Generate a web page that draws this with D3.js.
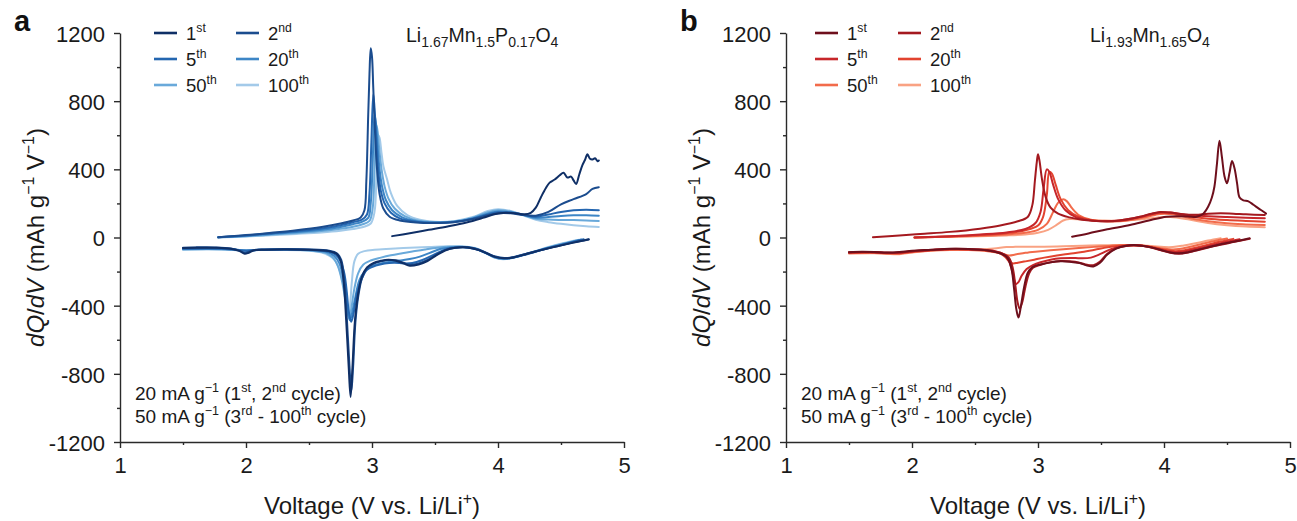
<!DOCTYPE html>
<html>
<head>
<meta charset="utf-8">
<script src="https://cdn.jsdelivr.net/npm/d3@7"></script>
<style>
  html, body { margin: 0; padding: 0; background: #fff; }
  svg { display: block; font-family: "Liberation Sans", Arial, Helvetica, sans-serif; }
</style>
</head>
<body>
<svg id="chart" width="1297" height="521"></svg>
<script>
// ---- cycle labels and palettes ----
const cycleNums = ["1", "2", "5", "20", "50", "100"];
const cycleSups = ["st", "nd", "th", "th", "th", "th"];
const bluePalette = ["#0f2f66", "#1b4c8e", "#2466b0", "#3d86c6", "#69a9da", "#a3cae9"];
const redPalette  = ["#6e0f1c", "#a4191f", "#c7262a", "#e2432f", "#f26b4b", "#f9a283"];

// ---- axis ticks ----
const yTicks = [-1200, -800, -400, 0, 400, 800, 1200];
const yMinor = [-1000, -600, -200, 200, 600, 1000];
const xTicks = [1, 2, 3, 4, 5];
const xMinor = [1.5, 2.5, 3.5, 4.5];

// ---- Li1.67Mn1.5P0.17O4 : charge branches [V, dQ/dV] ----
const chgA1 = [[3.16,8],[3.3,25],[3.45,45],[3.6,65],[3.75,88],[3.88,115],[3.98,138],[4.06,145],[4.14,142],[4.21,136],[4.26,145],[4.3,175],[4.34,235],[4.38,290],[4.41,322],[4.45,340],[4.49,365],[4.52,380],[4.55,352],[4.58,357],[4.6,335],[4.62,314],[4.645,370],[4.67,425],[4.69,455],[4.71,488],[4.73,462],[4.75,458],[4.77,465],[4.79,448],[4.8,452]];
const chgA2 = [[1.78,2],[2.0,14],[2.2,28],[2.4,43],[2.6,62],[2.75,82],[2.85,100],[2.91,118],[2.94,160],[2.955,330],[2.97,720],[2.98,960],[2.99,1110],[3.0,1060],[3.01,880],[3.025,600],[3.04,400],[3.06,255],[3.09,170],[3.14,122],[3.22,100],[3.35,88],[3.5,85],[3.65,90],[3.8,108],[3.92,130],[4.0,142],[4.1,142],[4.2,132],[4.3,128],[4.4,150],[4.5,195],[4.6,225],[4.7,255],[4.75,285],[4.8,295]];
const chgA5 = [[1.78,1],[2.0,12],[2.2,24],[2.4,37],[2.6,53],[2.75,72],[2.85,90],[2.92,105],[2.96,135],[2.98,260],[2.995,560],[3.01,840],[3.02,760],[3.035,560],[3.05,390],[3.07,275],[3.1,200],[3.15,145],[3.22,112],[3.35,92],[3.5,86],[3.65,91],[3.8,110],[3.92,135],[4.0,148],[4.1,146],[4.2,134],[4.3,122],[4.4,135],[4.5,150],[4.6,160],[4.7,163],[4.8,160]];
const chgA20 = [[1.78,1],[2.0,10],[2.2,21],[2.4,32],[2.6,46],[2.75,62],[2.85,78],[2.92,92],[2.97,115],[2.99,200],[3.005,430],[3.02,720],[3.03,680],[3.045,530],[3.06,400],[3.08,300],[3.11,220],[3.16,160],[3.24,118],[3.35,96],[3.5,88],[3.65,92],[3.8,112],[3.92,140],[4.0,152],[4.1,148],[4.2,133],[4.3,116],[4.4,120],[4.5,126],[4.6,130],[4.7,131],[4.8,128]];
const chgA50 = [[1.78,1],[2.0,8],[2.2,17],[2.4,27],[2.6,38],[2.75,51],[2.85,63],[2.92,76],[2.98,98],[3.005,170],[3.02,400],[3.035,660],[3.045,620],[3.06,500],[3.08,380],[3.1,300],[3.13,230],[3.18,170],[3.26,125],[3.36,100],[3.5,90],[3.65,94],[3.8,116],[3.92,148],[4.0,160],[4.1,152],[4.2,132],[4.3,110],[4.4,105],[4.5,103],[4.6,102],[4.7,100],[4.8,97]];
const chgA100 = [[1.78,0],[2.0,6],[2.2,13],[2.4,21],[2.6,30],[2.75,40],[2.85,50],[2.93,62],[2.99,82],[3.02,150],[3.035,350],[3.05,600],[3.06,585],[3.075,500],[3.09,420],[3.12,340],[3.15,260],[3.2,185],[3.28,132],[3.38,104],[3.5,92],[3.65,96],[3.8,120],[3.92,155],[4.0,166],[4.1,156],[4.2,130],[4.3,104],[4.4,90],[4.5,80],[4.6,72],[4.7,66],[4.8,62]];

// ---- Li1.67Mn1.5P0.17O4 : discharge branches ----
const disA1 = [[4.72,-12],[4.6,-30],[4.45,-55],[4.3,-82],[4.2,-102],[4.12,-118],[4.05,-122],[3.98,-115],[3.92,-96],[3.85,-74],[3.76,-58],[3.66,-60],[3.58,-76],[3.51,-105],[3.44,-138],[3.37,-158],[3.3,-166],[3.25,-152],[3.19,-136],[3.13,-130],[3.07,-137],[3.01,-150],[2.96,-175],[2.92,-230],[2.89,-330],[2.865,-485],[2.845,-760],[2.83,-935],[2.815,-760],[2.795,-485],[2.775,-260],[2.75,-132],[2.72,-96],[2.66,-80],[2.5,-72],[2.3,-70],[2.15,-72],[2.06,-76],[2.02,-90],[1.99,-96],[1.95,-80],[1.88,-66],[1.75,-60],[1.6,-60],[1.5,-62]];
const disA2 = [[4.72,-10],[4.6,-28],[4.45,-54],[4.3,-80],[4.2,-100],[4.12,-116],[4.05,-120],[3.98,-112],[3.92,-94],[3.85,-72],[3.76,-57],[3.66,-60],[3.58,-74],[3.51,-100],[3.44,-132],[3.37,-152],[3.3,-160],[3.25,-148],[3.19,-134],[3.13,-132],[3.07,-140],[3.01,-155],[2.96,-182],[2.92,-240],[2.89,-350],[2.868,-500],[2.85,-760],[2.836,-900],[2.82,-740],[2.8,-470],[2.78,-250],[2.755,-130],[2.72,-92],[2.66,-78],[2.5,-70],[2.3,-68],[2.15,-70],[2.06,-74],[2.02,-84],[1.99,-90],[1.95,-77],[1.88,-64],[1.75,-58],[1.6,-58],[1.5,-60]];
const disA5 = [[4.68,-10],[4.55,-35],[4.4,-62],[4.28,-88],[4.18,-108],[4.1,-120],[4.04,-122],[3.97,-112],[3.9,-90],[3.82,-68],[3.72,-57],[3.62,-62],[3.55,-80],[3.48,-105],[3.4,-132],[3.32,-150],[3.25,-152],[3.18,-148],[3.1,-152],[3.03,-165],[2.96,-190],[2.92,-240],[2.88,-330],[2.855,-440],[2.835,-495],[2.815,-430],[2.8,-320],[2.78,-210],[2.75,-140],[2.71,-100],[2.65,-82],[2.5,-72],[2.3,-70],[2.1,-72],[2.0,-78],[1.9,-70],[1.7,-64],[1.5,-66]];
const disA20 = [[4.66,-12],[4.55,-32],[4.4,-60],[4.28,-86],[4.18,-106],[4.1,-120],[4.04,-124],[3.97,-114],[3.9,-90],[3.82,-66],[3.72,-56],[3.62,-58],[3.54,-68],[3.46,-90],[3.38,-112],[3.3,-126],[3.22,-135],[3.15,-142],[3.07,-152],[3.0,-168],[2.94,-200],[2.9,-250],[2.865,-360],[2.84,-450],[2.825,-485],[2.81,-450],[2.79,-340],[2.77,-230],[2.74,-150],[2.7,-108],[2.64,-86],[2.5,-74],[2.3,-70],[2.1,-72],[2.0,-76],[1.9,-70],[1.7,-66],[1.5,-68]];
const disA50 = [[4.64,-14],[4.55,-30],[4.4,-58],[4.28,-85],[4.18,-106],[4.1,-122],[4.04,-126],[3.97,-116],[3.9,-90],[3.82,-64],[3.72,-54],[3.62,-55],[3.52,-60],[3.42,-70],[3.32,-82],[3.24,-92],[3.15,-104],[3.07,-118],[2.99,-135],[2.93,-160],[2.89,-210],[2.86,-300],[2.835,-420],[2.82,-470],[2.805,-440],[2.785,-350],[2.76,-250],[2.73,-170],[2.69,-118],[2.63,-90],[2.5,-76],[2.3,-72],[2.1,-73],[2.0,-76],[1.9,-71],[1.7,-68],[1.5,-70]];
const disA100 = [[4.62,-16],[4.55,-28],[4.4,-56],[4.28,-84],[4.18,-106],[4.1,-122],[4.04,-127],[3.97,-117],[3.9,-90],[3.82,-62],[3.72,-52],[3.6,-52],[3.45,-56],[3.3,-60],[3.15,-66],[3.02,-72],[2.94,-80],[2.89,-95],[2.86,-140],[2.84,-260],[2.825,-400],[2.812,-445],[2.8,-400],[2.78,-300],[2.75,-210],[2.72,-150],[2.68,-115],[2.62,-92],[2.5,-78],[2.3,-73],[2.1,-74],[2.0,-77],[1.9,-73],[1.7,-70],[1.5,-72]];

// ---- Li1.93Mn1.65O4 : charge branches ----
const chgB1 = [[3.27,5],[3.4,24],[3.55,48],[3.73,73],[3.88,100],[4.02,122],[4.14,125],[4.26,122],[4.31,138],[4.35,180],[4.38,235],[4.4,298],[4.42,430],[4.44,568],[4.46,470],[4.48,360],[4.5,318],[4.52,380],[4.54,449],[4.56,405],[4.58,318],[4.6,235],[4.63,218],[4.67,212],[4.71,192],[4.75,171],[4.79,151],[4.81,140]];
const chgB2 = [[1.69,2],[1.9,12],[2.1,22],[2.3,33],[2.54,52],[2.7,70],[2.84,95],[2.92,122],[2.955,190],[2.975,330],[2.99,440],[3.0,488],[3.012,450],[3.03,350],[3.06,240],[3.1,175],[3.16,140],[3.25,118],[3.35,104],[3.5,95],[3.65,100],[3.8,120],[3.9,140],[3.97,150],[4.05,146],[4.15,136],[4.25,133],[4.35,140],[4.45,142],[4.55,140],[4.65,136],[4.8,132]];
const chgB5 = [[2.02,0],[2.3,8],[2.54,18],[2.75,30],[2.9,50],[2.98,85],[3.02,150],[3.045,290],[3.07,400],[3.09,385],[3.12,310],[3.16,225],[3.22,158],[3.3,120],[3.4,102],[3.55,95],[3.7,105],[3.85,128],[3.97,148],[4.07,145],[4.2,132],[4.35,125],[4.5,120],[4.65,116],[4.8,113]];
const chgB20 = [[2.02,0],[2.3,6],[2.54,14],[2.75,25],[2.9,42],[3.0,70],[3.04,120],[3.07,250],[3.09,386],[3.11,375],[3.14,310],[3.18,225],[3.24,160],[3.32,122],[3.42,102],[3.55,95],[3.7,102],[3.85,125],[3.97,145],[4.07,142],[4.2,125],[4.35,110],[4.5,102],[4.65,97],[4.8,93]];
const chgB50 = [[2.02,0],[2.3,5],[2.54,10],[2.75,18],[2.9,28],[3.0,45],[3.07,80],[3.12,150],[3.16,205],[3.2,224],[3.23,212],[3.27,172],[3.33,128],[3.42,104],[3.55,95],[3.7,98],[3.85,118],[3.97,138],[4.07,136],[4.2,115],[4.35,95],[4.5,83],[4.65,77],[4.8,73]];
const chgB100 = [[2.02,0],[2.3,4],[2.54,8],[2.75,12],[2.9,18],[3.0,28],[3.08,45],[3.15,75],[3.2,100],[3.25,108],[3.35,105],[3.5,100],[3.65,98],[3.8,105],[3.95,118],[4.05,120],[4.2,105],[4.35,85],[4.5,72],[4.65,64],[4.8,60]];

// ---- Li1.93Mn1.65O4 : discharge branches ----
const disB1 = [[4.68,-5],[4.55,-25],[4.4,-48],[4.28,-70],[4.18,-88],[4.12,-93],[4.05,-88],[3.97,-72],[3.88,-55],[3.78,-45],[3.7,-48],[3.62,-65],[3.55,-100],[3.49,-150],[3.44,-170],[3.39,-165],[3.33,-150],[3.25,-142],[3.18,-140],[3.1,-146],[3.02,-158],[2.96,-172],[2.92,-205],[2.89,-290],[2.865,-400],[2.845,-470],[2.828,-420],[2.81,-300],[2.79,-185],[2.76,-122],[2.71,-96],[2.6,-76],[2.45,-68],[2.3,-66],[2.15,-72],[2.0,-78],[1.9,-85],[1.8,-88],[1.7,-85],[1.6,-84],[1.5,-86]];
const disB2 = [[4.68,-8],[4.55,-27],[4.4,-50],[4.28,-72],[4.18,-90],[4.12,-95],[4.05,-90],[3.97,-74],[3.88,-56],[3.78,-46],[3.7,-50],[3.62,-64],[3.55,-95],[3.49,-142],[3.44,-162],[3.39,-160],[3.33,-148],[3.25,-140],[3.18,-138],[3.1,-145],[3.02,-160],[2.96,-178],[2.93,-210],[2.9,-290],[2.875,-380],[2.855,-418],[2.838,-380],[2.82,-280],[2.8,-180],[2.77,-120],[2.72,-95],[2.6,-75],[2.45,-68],[2.3,-67],[2.15,-73],[2.0,-80],[1.9,-88],[1.8,-90],[1.7,-86],[1.6,-85],[1.5,-87]];
const disB5 = [[4.6,-10],[4.5,-25],[4.38,-45],[4.26,-66],[4.16,-82],[4.1,-86],[4.03,-80],[3.95,-66],[3.86,-52],[3.76,-46],[3.66,-52],[3.58,-68],[3.5,-95],[3.42,-118],[3.34,-122],[3.26,-120],[3.18,-122],[3.1,-130],[3.02,-145],[2.96,-162],[2.91,-185],[2.87,-225],[2.845,-262],[2.825,-272],[2.81,-245],[2.79,-185],[2.765,-130],[2.73,-100],[2.66,-80],[2.5,-70],[2.3,-68],[2.15,-74],[2.0,-82],[1.9,-90],[1.8,-90],[1.7,-86],[1.5,-88]];
const disB20 = [[4.55,-8],[4.45,-24],[4.35,-42],[4.24,-62],[4.15,-76],[4.09,-80],[4.02,-75],[3.94,-62],[3.85,-50],[3.75,-45],[3.65,-48],[3.55,-58],[3.45,-72],[3.35,-85],[3.25,-95],[3.15,-105],[3.05,-118],[2.97,-130],[2.9,-140],[2.84,-148],[2.8,-152],[2.77,-140],[2.74,-115],[2.7,-95],[2.62,-80],[2.5,-72],[2.3,-70],[2.15,-75],[2.0,-84],[1.9,-92],[1.8,-92],[1.7,-88],[1.5,-90]];
const disB50 = [[4.5,-6],[4.4,-20],[4.3,-38],[4.2,-56],[4.12,-68],[4.06,-70],[3.99,-64],[3.9,-54],[3.8,-46],[3.7,-44],[3.58,-48],[3.45,-55],[3.3,-63],[3.15,-72],[3.0,-82],[2.9,-90],[2.82,-100],[2.77,-105],[2.73,-98],[2.68,-88],[2.6,-80],[2.45,-74],[2.3,-72],[2.15,-76],[2.0,-86],[1.9,-95],[1.8,-94],[1.7,-90],[1.5,-92]];
const disB100 = [[4.45,-4],[4.35,-18],[4.25,-34],[4.15,-48],[4.07,-56],[4.0,-56],[3.9,-50],[3.78,-45],[3.65,-44],[3.5,-46],[3.35,-48],[3.2,-52],[3.05,-54],[2.92,-55],[2.82,-55],[2.75,-56],[2.65,-65],[2.5,-73],[2.3,-74],[2.15,-78],[2.0,-88],[1.9,-98],[1.8,-96],[1.7,-92],[1.5,-94]];

// ---- text content ----
const formulaA = [["Li",""],["1.67","sub"],["Mn",""],["1.5","sub"],["P",""],["0.17","sub"],["O",""],["4","sub"]];
const formulaB = [["Li",""],["1.93","sub"],["Mn",""],["1.65","sub"],["O",""],["4","sub"]];
const rateLine1 = [["20 mA g",""],["\u22121","sup"],[" (1",""],["st","sup"],[", 2",""],["nd","sup"],[" cycle)",""]];
const rateLine2 = [["50 mA g",""],["\u22121","sup"],[" (3",""],["rd","sup"],[" - 100",""],["th","sup"],[" cycle)",""]];
const yTitle = [["dQ","i"],["/",""],["dV","i"],[" (mAh g",""],["\u22121","sup"],[" V",""],["\u22121","sup"],[")",""]];
const xTitle = [["Voltage (V vs. Li/Li",""],["+","sup"],[")",""]];

// ---- panels assembled from the arrays above ----
const panels = [
  { letter: "a", left: 120, colors: bluePalette, formula: formulaA, formulaX: 406,
    legendX: [154, 236],
    charge: [chgA1, chgA2, chgA5, chgA20, chgA50, chgA100],
    discharge: [disA1, disA2, disA5, disA20, disA50, disA100] },
  { letter: "b", left: 786, colors: redPalette, formula: formulaB, formulaX: 1090,
    legendX: [815, 898],
    charge: [chgB1, chgB2, chgB5, chgB20, chgB50, chgB100],
    discharge: [disB1, disB2, disB5, disB20, disB50, disB100] }
];

const svg = d3.select("#chart");
const TEXT = "#1a1a1a";
const AXIS = "#2a2a2a";
const plotW = 504, yTop = 33, yBot = 442;

// writes a text element made of plain / italic / sub / sup pieces
function richText(parent, x, y, segs, size, anchor) {
  const t = parent.append("text")
    .attr("x", x).attr("y", y)
    .attr("font-size", size)
    .attr("fill", TEXT)
    .attr("text-anchor", anchor || "start");
  let shift = 0;
  segs.forEach(([s, kind]) => {
    let target = 0, fs = size;
    if (kind === "sup") { target = -0.4 * size; fs = size * 0.66; }
    else if (kind === "sub") { target = 0.28 * size; fs = size * 0.72; }
    const sp = t.append("tspan").text(s).attr("font-size", fs);
    if (target - shift !== 0) sp.attr("dy", target - shift);
    if (kind === "i") sp.attr("font-style", "italic");
    shift = target;
  });
  return t;
}

panels.forEach(p => {
  const x = d3.scaleLinear().domain([1, 5]).range([p.left, p.left + plotW]);
  const y = d3.scaleLinear().domain([-1200, 1200]).range([yBot, yTop]);
  const g = svg.append("g");

  // curves: lightest (latest cycle) first so early cycles sit on top
  const line = d3.line()
    .x(d => x(d[0])).y(d => y(d[1]))
    .curve(d3.curveCatmullRom.alpha(0.5));
  const curves = g.append("g").attr("fill", "none")
    .attr("stroke-width", 2).attr("stroke-linejoin", "round").attr("stroke-linecap", "round");
  for (let i = 5; i >= 0; i--) {
    curves.append("path").attr("d", line(p.discharge[i])).attr("stroke", p.colors[i]);
    curves.append("path").attr("d", line(p.charge[i])).attr("stroke", p.colors[i]);
  }

  // y axis
  const yAxis = g.append("g").attr("transform", `translate(${p.left},0)`)
    .call(d3.axisLeft(y).tickValues(yTicks).tickSize(6).tickSizeOuter(0).tickPadding(9)
      .tickFormat(d => String(d)));
  g.append("g").attr("transform", `translate(${p.left},0)`)
    .call(d3.axisLeft(y).tickValues(yMinor).tickSize(3).tickSizeOuter(0).tickFormat(""))
    .select(".domain").remove();

  // x axis
  const xAxis = g.append("g").attr("transform", `translate(0,${yBot})`)
    .call(d3.axisBottom(x).tickValues(xTicks).tickSize(6).tickSizeOuter(0).tickPadding(9)
      .tickFormat(d => String(d)));
  g.append("g").attr("transform", `translate(0,${yBot})`)
    .call(d3.axisBottom(x).tickValues(xMinor).tickSize(3).tickSizeOuter(0).tickFormat(""))
    .select(".domain").remove();

  g.selectAll(".domain, .tick line").attr("stroke", AXIS).attr("stroke-width", 1.4);
  [yAxis, xAxis].forEach(a => a.selectAll("text")
    .attr("font-size", 22).attr("fill", TEXT)
    .attr("font-family", "'Liberation Sans', Arial, sans-serif"));
  yAxis.selectAll("text").attr("dy", "0.38em");

  // axis titles
  richText(g, p.left + plotW / 2, 514, xTitle, 24, "middle");
  const yt = g.append("g").attr("transform", `translate(${p.left - 76},${(yTop + yBot) / 2}) rotate(-90)`);
  richText(yt, 0, 0, yTitle, 24, "middle");

  // panel letter
  g.append("text").attr("x", p.left - 106).attr("y", 31)
    .attr("font-size", 29).attr("font-weight", "bold").attr("fill", "#111")
    .text(p.letter);

  // compound formula
  richText(g, p.formulaX, 41.5, p.formula, 19.5);

  // cycle legend: two columns, three rows
  const rowY = [33, 59, 85];
  cycleNums.forEach((n, i) => {
    const col = i % 2, row = Math.floor(i / 2);
    const lx = p.legendX[col];
    g.append("line")
      .attr("x1", lx).attr("x2", lx + 23)
      .attr("y1", rowY[row]).attr("y2", rowY[row])
      .attr("stroke", p.colors[i]).attr("stroke-width", 2.6);
    richText(g, lx + 32, rowY[row] + 6.5, [[n, ""], [cycleSups[i], "sup"]], 18.5);
  });

  // current-density notes
  richText(g, p.left + 15, 400, rateLine1, 19);
  richText(g, p.left + 15, 423, rateLine2, 19);
});
</script>
</body>
</html>
